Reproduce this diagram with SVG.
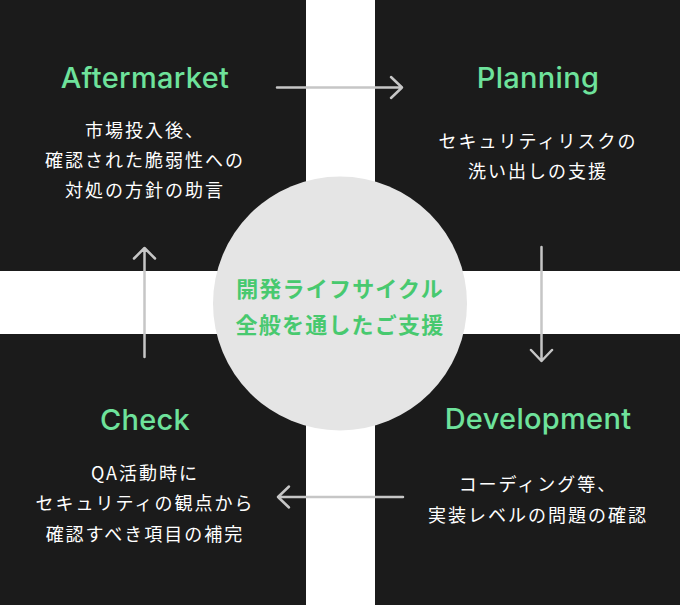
<svg xmlns="http://www.w3.org/2000/svg" width="680" height="605" viewBox="0 0 680 605">
<style>
.q{fill:#1b1b1b}
.t{font-family:Inter,"Noto Sans CJK JP",sans-serif;font-weight:500;font-size:29px;letter-spacing:0.3px;fill:#6ee29b;text-anchor:middle}
.b{font-family:"Noto Sans CJK JP",sans-serif;font-size:18px;letter-spacing:2px;fill:#ffffff;text-anchor:middle}
.c{font-family:"Noto Sans CJK JP",sans-serif;font-weight:700;font-size:22px;letter-spacing:1.2px;fill:#48c96f;text-anchor:middle}
.a{fill:none;stroke:#c6c6c6;stroke-width:2.5;stroke-linecap:round;stroke-linejoin:round}
</style>
<rect width="680" height="605" fill="#ffffff"/>
<g id="aftermarket">
<rect class="q" x="0" y="0" width="306" height="271"/>
<text class="t" x="145" y="88">Aftermarket</text>
<text class="b" x="145" y="137">市場投入後、</text>
<text class="b" x="145" y="167">確認された脆弱性への</text>
<text class="b" x="145" y="197">対処の方針の助言</text>
</g>
<g id="planning">
<rect class="q" x="375" y="0" width="305" height="271"/>
<text class="t" x="538" y="88">Planning</text>
<text class="b" x="538" y="148">セキュリティリスクの</text>
<text class="b" x="538" y="178">洗い出しの支援</text>
</g>
<g id="check">
<rect class="q" x="0" y="334" width="306" height="271"/>
<text class="t" x="145" y="430">Check</text>
<text class="b" x="145" y="480">QA活動時に</text>
<text class="b" x="145" y="510">セキュリティの観点から</text>
<text class="b" x="145" y="541">確認すべき項目の補完</text>
</g>
<g id="development">
<rect class="q" x="375" y="334" width="305" height="271"/>
<text class="t" x="538" y="429">Development</text>
<text class="b" x="538" y="491">コーディング等、</text>
<text class="b" x="538" y="522">実装レベルの問題の確認</text>
</g>
<g id="center">
<circle cx="340" cy="303.5" r="127" fill="#e5e5e5"/>
<text class="c" x="340" y="297">開発ライフサイクル</text>
<text class="c" x="340" y="333">全般を通したご支援</text>
</g>
<g id="connectors">
<path class="a" d="M277 87.5H402M391 77L402 87.5L391 98"/>
<path class="a" d="M541.5 247V361M531 350L541.5 361L552 350"/>
<path class="a" d="M403 497H278M289 486.5L278 497L289 507.5"/>
<path class="a" d="M144.5 357V248M134 258.5L144.5 248L155 258.5"/>
</g>
</svg>
